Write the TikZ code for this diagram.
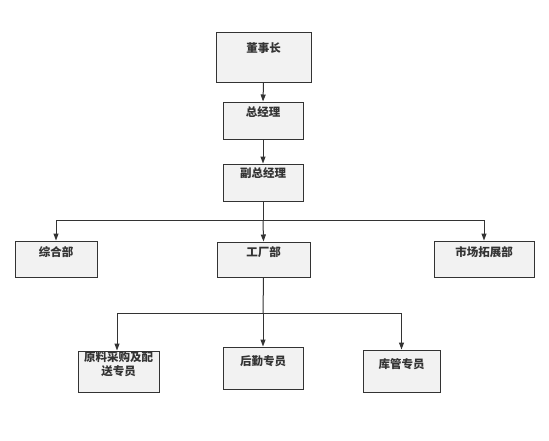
\documentclass[tikz,border=0pt]{standalone}
\usepackage{fontspec}
\setmainfont{Noto Sans CJK SC}
\usetikzlibrary{arrows.meta}
\definecolor{ln}{HTML}{333333}
\definecolor{bx}{HTML}{F2F2F2}
\tikzset{
  orgbox/.style={draw=ln, fill=bx, line width=1pt, inner sep=0pt},
  lbl/.style={font=\fontsize{11.5}{14}\selectfont\bfseries, text=ln, align=center, inner sep=0pt},
  arr/.style={draw=ln, line width=1pt, -{Triangle[length=7pt,width=5pt]}},
  ln/.style={draw=ln, line width=1pt}
}
\begin{document}
\begin{tikzpicture}[x=1pt,y=-1pt]
\useasboundingbox (0,0) rectangle (549,440);
\node[orgbox, minimum width=95pt, minimum height=50pt, label={[lbl, anchor=center, yshift=-17pt]north:董事长}] (a) at (263.5,57) {};
\node[orgbox, minimum width=80pt, minimum height=37pt, label={[lbl, anchor=center, yshift=-11pt]north:总经理}] (b) at (263,120.5) {};
\node[orgbox, minimum width=80pt, minimum height=37pt, label={[lbl, anchor=center, yshift=-10pt]north:副总经理}] (c) at (263,182.5) {};
\node[orgbox, minimum width=82pt, minimum height=36pt, label={[lbl, anchor=center, yshift=-12pt]north:综合部}] (d1) at (56,259) {};
\node[orgbox, minimum width=93pt, minimum height=35pt, label={[lbl, anchor=center, yshift=-11pt]north:工厂部}] (d2) at (263.5,259.5) {};
\node[orgbox, minimum width=100pt, minimum height=36pt, label={[lbl, anchor=center, yshift=-12pt]north:市场拓展部}] (d3) at (484,259) {};
\node[orgbox, minimum width=81pt, minimum height=41pt, label={[lbl, anchor=north, yshift=-1pt]north:原料采购及配\\送专员}] (e1) at (118.5,371.5) {};
\node[orgbox, minimum width=80pt, minimum height=42pt, label={[lbl, anchor=center, yshift=-15pt]north:后勤专员}] (e2) at (263,368) {};
\node[orgbox, minimum width=77pt, minimum height=42pt, label={[lbl, anchor=center, yshift=-15pt]north:库管专员}] (e3) at (401.5,371) {};
\coordinate (j1) at (263,220);
\coordinate (j2) at (263,313);
\draw[arr] (a.south) -- (b.north);
\draw[arr] (b.south) -- (c.north);
\draw[ln] (c.south) -- (j1);
\draw[arr] (j1) -| (d1.north);
\draw[arr] (j1) -- (d2.north);
\draw[arr] (j1) -| (d3.north);
\draw[ln] (d2.south) -- (j2);
\draw[arr] (j2) -| ([xshift=-1.5pt]e1.north);
\draw[arr] (j2) -- (e2.north);
\draw[arr] (j2) -| (e3.north);
\end{tikzpicture}
\end{document}
